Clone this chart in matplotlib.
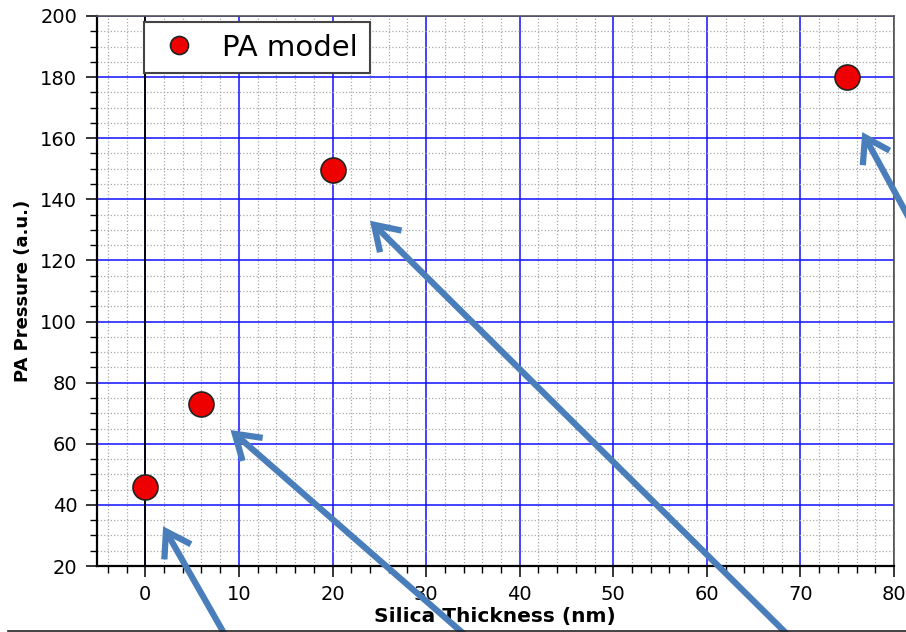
import matplotlib
matplotlib.use('Agg')
import matplotlib.pyplot as plt
from matplotlib.ticker import MultipleLocator
from matplotlib.lines import Line2D

# PA model output vs silica shell thickness
thickness = [0, 6, 20, 75]
pressure = [46, 73, 149.5, 180]

# pointer arrows: tips in data units, tails in figure pixels (off the page edge)
tip_x = [1.9, 9.1, 24.0, 76.6]
tip_y = [33.0, 64.5, 133.0, 162.0]
tail_px = [(229, -10), (473, -10), (795, -10), (916, 401)]

plt.rcParams['font.family'] = 'DejaVu Sans'

fig = plt.figure(figsize=(9.06, 6.32), dpi=100)
ax = fig.add_axes([0.1067, 0.1044, 0.8801, 0.8703])

ax.plot(thickness, pressure, 'o', color='#ee0000', markeredgecolor='#222222',
        markeredgewidth=1.2, markersize=18, label='PA model', zorder=5)

ax.set_xlim(-5.2, 80)
ax.set_ylim(20, 200)
ax.xaxis.set_major_locator(MultipleLocator(10))
ax.xaxis.set_minor_locator(MultipleLocator(2))
ax.yaxis.set_major_locator(MultipleLocator(20))
ax.yaxis.set_minor_locator(MultipleLocator(5))

# grid: blue majors, grey dotted minors, black line at x=0
ax.grid(which='minor', color='#a8a8a8', linestyle=':', linewidth=0.9, zorder=0)
ax.grid(which='major', color='#1010ff', linestyle='-', linewidth=1.1, zorder=1)
ax.set_axisbelow(True)
ax.axvline(0, color='black', linewidth=1.3, zorder=2)

ax.tick_params(which='major', direction='out', length=8, width=1.1, labelsize=14, pad=6)
ax.tick_params(which='minor', direction='out', length=5, width=1.0)
ax.tick_params(top=False, right=False, which='both')

for side in ['left', 'bottom']:
    ax.spines[side].set_linewidth(1.6)
    ax.spines[side].set_color('black')
for side in ['top', 'right']:
    ax.spines[side].set_linewidth(1.2)
    ax.spines[side].set_color('#555555')

ax.set_xlabel('Silica Thickness (nm)', fontsize=14.5, fontweight='bold', labelpad=2)
ax.set_ylabel('PA Pressure (a.u.)', fontsize=13, fontweight='bold', labelpad=6)

leg = ax.legend(loc='upper left', bbox_to_anchor=(0.059, 0.989), borderaxespad=0,
                fontsize=21, markerscale=0.72, fancybox=False, framealpha=1,
                edgecolor='#444444', handletextpad=0.7, borderpad=0.4,
                handlelength=1.6)
leg.get_frame().set_linewidth(1.5)

for x, y, (tx, ty) in zip(tip_x, tip_y, tail_px):
    ax.annotate('', xy=(x, y), xycoords='data',
                xytext=(tx, ty), textcoords='figure pixels',
                annotation_clip=False, zorder=20,
                arrowprops=dict(arrowstyle='->, head_length=0.85, head_width=0.55',
                                mutation_scale=20, color='#4a7ebb',
                                linewidth=4.5, shrinkA=0, shrinkB=0,
                                capstyle='butt', joinstyle='miter'))

# thin rule along the bottom edge of the page
fig.add_artist(Line2D([8 / 906, 1], [1.5 / 632, 1.5 / 632], color='#222222', linewidth=1.2))

fig.savefig('out.png', dpi=100)
